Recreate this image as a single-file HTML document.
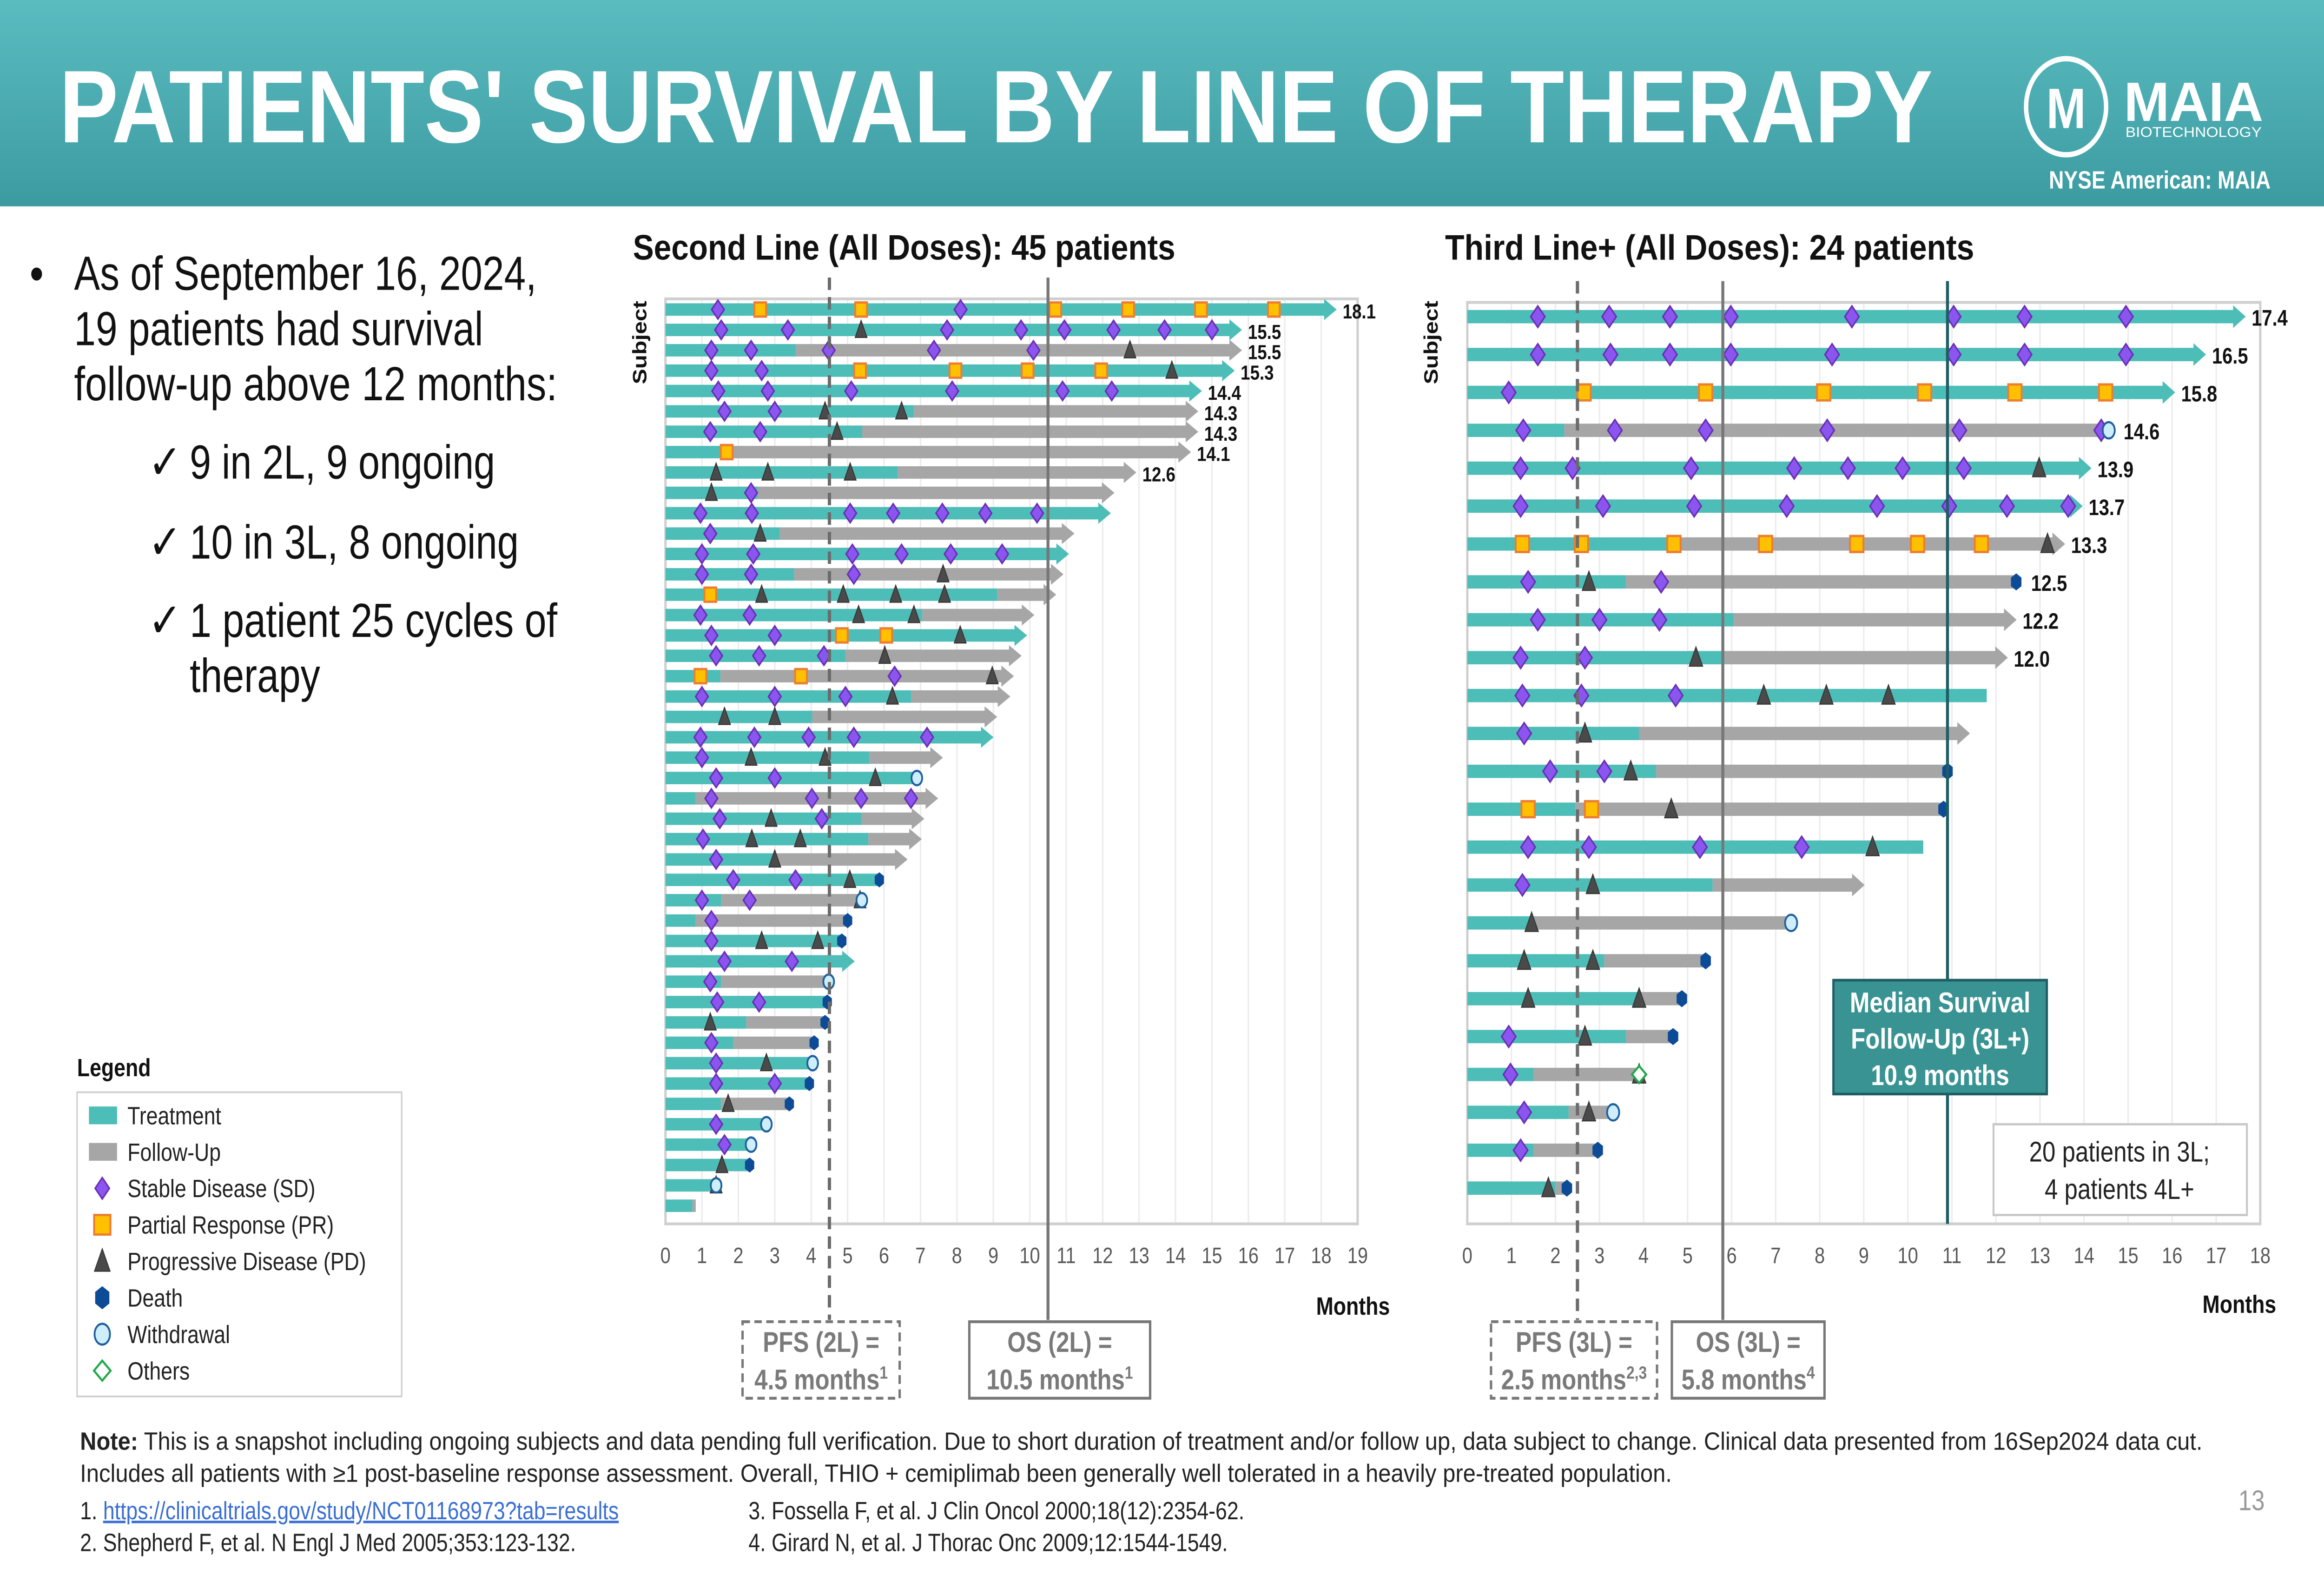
<!DOCTYPE html>
<html><head><meta charset="utf-8"><style>
html,body{margin:0;padding:0;background:#fff;overflow:hidden;width:100%;height:100%;}
svg{display:block;width:100vw;height:100vh;}
text{font-family:"Liberation Sans",sans-serif;}
</style></head><body>
<svg id="s" xmlns="http://www.w3.org/2000/svg" viewBox="0 0 1568 882" preserveAspectRatio="none">
<defs><linearGradient id="hg" x1="0" y1="0" x2="0" y2="1"><stop offset="0" stop-color="#5bbcc0"/><stop offset="1" stop-color="#3b9ba1"/></linearGradient></defs>
<g>
<rect x="0" y="0" width="1568" height="116" fill="url(#hg)"/>
<text x="40" y="80" font-size="58" font-weight="bold" fill="#fff" textLength="1264" lengthAdjust="spacingAndGlyphs">PATIENTS' SURVIVAL BY LINE OF THERAPY</text>
<g>
<circle cx="1394" cy="60" r="27" fill="none" stroke="#fff" stroke-width="3"/>
<text x="1394" y="72" font-size="32" fill="#fff" text-anchor="middle" font-weight="bold">M</text>
<text x="1433" y="68" font-size="31" fill="#fff" font-weight="bold" textLength="94" lengthAdjust="spacingAndGlyphs">MAIA</text>
<text x="1434" y="77" font-size="8" fill="#fff" textLength="92" lengthAdjust="spacingAndGlyphs">BIOTECHNOLOGY</text>
</g>
<text x="1532" y="106" font-size="14" font-weight="bold" fill="#fff" text-anchor="end">NYSE American: MAIA</text>
</g>
<g font-size="27" fill="#111">
<text x="20" y="163">•</text>
<text x="50" y="163" textLength="312" lengthAdjust="spacingAndGlyphs">As of September 16, 2024,</text>
<text x="50" y="194" textLength="276" lengthAdjust="spacingAndGlyphs">19 patients had survival</text>
<text x="50" y="225" textLength="326" lengthAdjust="spacingAndGlyphs">follow-up above 12 months:</text>
<text x="100" y="269">✓</text><text x="128" y="269" textLength="206" lengthAdjust="spacingAndGlyphs">9 in 2L, 9 ongoing</text>
<text x="100" y="314">✓</text><text x="128" y="314" textLength="222" lengthAdjust="spacingAndGlyphs">10 in 3L, 8 ongoing</text>
<text x="100" y="358">✓</text><text x="128" y="358" textLength="248" lengthAdjust="spacingAndGlyphs">1 patient 25 cycles of</text>
<text x="128" y="389" textLength="88" lengthAdjust="spacingAndGlyphs">therapy</text>
</g>
<g>
<text x="52" y="605" font-size="14" font-weight="bold" fill="#111">Legend</text>
<rect x="52" y="614" width="219" height="171" fill="#fff" stroke="#d0d0d0"/>
</g>
<g id="leftChart"></g>
<g id="rightChart"></g>
<g font-size="14" fill="#222">
<text x="54" y="815" textLength="1432" lengthAdjust="spacingAndGlyphs"><tspan font-weight="bold">Note:</tspan> This is a snapshot including ongoing subjects and data pending full verification. Due to short duration of treatment and/or follow up, data subject to change. Clinical data presented from 16Sep2024 data cut.</text>
<text x="54" y="833" textLength="1074" lengthAdjust="spacingAndGlyphs">Includes all patients with ≥1 post-baseline response assessment. Overall, THIO + cemiplimab been generally well tolerated in a heavily pre-treated population.</text>
<text x="54" y="854">1. <tspan fill="#3b6fd4" text-decoration="underline">https://clinicaltrials.gov/study/NCT01168973?tab=results</tspan></text>
<text x="54" y="872">2. Shepherd F, et al. N Engl J Med 2005;353:123-132.</text>
<text x="505" y="854">3. Fossella F, et al. J Clin Oncol 2000;18(12):2354-62.</text>
<text x="505" y="872">4. Girard N, et al. J Thorac Onc 2009;12:1544-1549.</text>
</g>
<text x="1528" y="849" font-size="16" fill="#999" text-anchor="end">13</text>
</svg>
<script>
// ===== Second line (left) data =====
const L_tx=[18.1,15.5,3.58,15.3,14.4,6.82,5.4,1.5,6.37,2.54,11.9,3.14,10.75,3.53,9.11,7.05,9.6,4.94,1.51,6.75,4.03,8.68,5.6,6.9,0.83,5.38,5.57,3.0,5.87,1.53,0.83,4.84,4.87,1.53,4.44,2.22,1.86,4.04,3.95,1.53,2.77,2.35,2.31,1.39,0.74];
const L_fu=[18.1,15.5,15.5,15.3,14.4,14.3,14.3,14.1,12.6,12.0,11.9,10.9,10.75,10.6,10.4,9.8,9.6,9.45,9.24,9.14,8.78,8.68,7.29,6.9,7.16,6.78,6.71,6.32,5.87,5.39,5.0,4.84,4.87,4.48,4.44,4.38,4.08,4.04,3.95,3.4,2.77,2.35,2.31,1.39,0.83];
const L_end=['a','a','a','a','a','a','a','a','a','a','a','a','a','a','a','a','a','a','a','a','a','a','a','w','a','a','a','a','d','w','d','d','a','w','d','d','d','w','d','d','w','w','d','w','n'];
const L_labels=['18.1','15.5','15.5','15.3','14.4','14.3','14.3','14.1','12.6'];
const L_sd=[[1.44,8.1],[1.53,3.36,7.73,9.76,10.95,12.3,13.7,15.0],[1.26,2.35,4.48,7.37,10.1],[1.26,2.64],[1.45,2.81,5.1,7.87,10.9,12.25],[1.62,3.0],[1.23,2.6],[],[],[2.35],[0.96,2.37,5.07,6.25,7.6,8.78,10.2],[1.23],[1.0,2.41,5.13,6.48,7.83,9.24],[1.0,2.35,5.17],[],[0.96,2.31],[1.26,3.0],[1.39,2.57,4.35],[6.29],[1.0,3.0,4.94],[],[0.96,2.44,3.93,5.17,7.18],[1.0],[1.39,3.0],[1.26,4.02,5.37,6.74],[1.49,4.29],[1.03],[1.39],[1.86,3.57],[1.0,2.31],[1.26],[1.26],[1.62,3.47],[1.23],[1.42,2.57],[],[1.26],[1.39],[1.39,3.0],[],[1.39],[1.62],[],[],[]];
const L_pr=[[2.6,5.37,10.7,12.7,14.7,16.7],[],[],[5.34,7.96,9.94,11.96],[],[],[],[1.68],[],[],[],[],[],[],[1.23],[],[4.84,6.06],[],[0.96,3.72],[],[],[],[],[],[],[],[],[],[],[],[],[],[],[],[],[],[],[],[],[],[],[],[],[],[]];
const L_pd=[[],[5.37],[12.75],[13.9],[],[4.38,6.48],[4.71],[],[1.39,2.81,5.07],[1.26],[],[2.6],[],[7.62],[2.64,4.88,6.32,7.66],[5.3,6.82],[8.09],[6.02],[8.97],[6.23],[1.62,3.0],[],[2.35,4.38],[5.76],[],[2.9],[2.37,3.7],[3.0],[5.06],[5.34],[],[2.64,4.18],[],[],[],[1.23],[],[2.77],[],[1.72],[],[],[1.55],[1.39],[]];
const L_ticks=[0,1,2,3,4,5,6,7,8,9,10,11,12,13,14,15,16,17,18,19];
const L_medians=[4.5,10.5];
// ===== Third line+ (right) data =====
const R_tx=[17.4,16.5,15.8,2.2,13.9,13.7,4.69,3.6,6.05,5.84,11.79,3.9,4.28,2.45,10.35,5.57,1.47,3.11,3.9,3.6,1.5,2.3,1.5,2.0];
const R_fu=[17.4,16.5,15.8,14.56,13.9,13.7,13.3,12.46,12.2,12.0,11.79,11.14,10.9,10.81,10.35,8.75,7.35,5.41,4.87,4.67,3.9,3.31,2.96,2.26];
const R_end=['a','a','a','w','a','a','a','d','a','a','n','a','d','d','n','a','w','d','d','d','o','w','d','d'];
const R_labels=['17.4','16.5','15.8','14.6','13.9','13.7','13.3','12.5','12.2','12.0'];
const R_sd=[[1.6,3.22,4.6,5.98,8.73,11.04,12.65,14.95],[1.6,3.25,4.6,5.98,8.28,11.04,12.65,14.95],[0.94],[1.27,3.35,5.41,8.17,11.17,14.39],[1.21,2.39,5.08,7.42,8.64,9.88,11.27],[1.21,3.08,5.15,7.25,9.3,10.94,12.25,13.64],[],[1.38,4.4],[1.6,3.0,4.36],[1.21,2.67],[1.25,2.59,4.73],[1.29],[1.88,3.11],[],[1.38,2.76,5.28,7.59],[1.25],[],[],[],[0.94],[0.98],[1.29],[1.21],[]];
const R_pr=[[],[],[2.65,5.41,8.09,10.38,12.43,14.49],[],[],[],[1.25,2.59,4.69,6.77,8.84,10.22,11.67],[],[],[],[],[],[],[1.38,2.82],[],[],[],[],[],[],[],[],[],[]];
const R_pd=[[],[],[],[],[12.98],[],[13.17],[2.76],[],[5.19],[6.73,8.15,9.56],[2.67],[3.71],[4.63],[9.2],[2.85],[1.46],[1.29,2.85],[1.38,3.9],[2.67],[3.9],[2.76],[],[1.84]];
const R_ticks=[0,1,2,3,4,5,6,7,8,9,10,11,12,13,14,15,16,17,18];
const R_medians=[2.5,5.8,10.9];

const NS='http://www.w3.org/2000/svg';
const C={teal:'#4dbdb8',gray:'#a6a6a6',sd:'#8b55f0',sdS:'#6a2fb5',pr:'#ffc000',prS:'#ed7d31',pd:'#4a4a4a',death:'#0d4b97',wd:'#cdeefa',wdS:'#1f5f9e',oth:'#22a84a'};
function mk(tag,attrs,parent){const e=document.createElementNS(NS,tag);for(const k in attrs)e.setAttribute(k,attrs[k]);parent.appendChild(e);return e;}
function diamond(g,x,y,s){const e=mk('polygon',{points:`${x},${y-s} ${x+s*0.8},${y} ${x},${y+s} ${x-s*0.8},${y}`,fill:C.sd,stroke:C.sdS,'stroke-width':1},g);

}
function square(g,x,y,s){const e=mk('rect',{x:x-s,y:y-s,width:2*s,height:2*s,fill:C.pr,stroke:C.prS,'stroke-width':1.3},g);

}
function tri(g,x,y,s){const e=mk('polygon',{points:`${x},${y-s} ${x+s*0.75},${y+s*0.8} ${x-s*0.75},${y+s*0.8}`,fill:C.pd,stroke:'#333','stroke-width':0.6},g);

}
function hexa(g,x,y,s){let p=[];for(let i=0;i<6;i++){const a=Math.PI/3*i+Math.PI/6;p.push((x+s*0.85*Math.cos(a))+','+(y+s*Math.sin(a)));}const e=mk('polygon',{points:p.join(' '),fill:C.death},g);

}
function circ(g,x,y,s){const e=mk('ellipse',{cx:x,cy:y,rx:s*0.8,ry:s*0.9,fill:C.wd,stroke:C.wdS,'stroke-width':1.2},g);

}
function other(g,x,y,s){const e=mk('polygon',{points:`${x},${y-s*0.8} ${x+s*0.8},${y} ${x},${y+s*0.8} ${x-s*0.8},${y}`,fill:'#fff',stroke:C.oth,'stroke-width':1.3},g);

}

function drawChart(g,cfg){
  const {x0,x1,maxM,yTop,yBot,row0,rowStep,tx,fu,end,labels,sd,pr,pd,ticks,barH,ms,medians,medStyles}=cfg;
  const xs=m=>x0+(x1-x0)*m/maxM;
  const ys=i=>row0+i*rowStep;
  ticks.forEach(t=>{if(t>0&&t<maxM){const l=mk('line',{x1:xs(t),x2:xs(t),y1:yTop,y2:yBot,stroke:'#ececec','stroke-width':1},g);
    
    }
    const tl=mk('text',{x:xs(t),y:yBot+22,'font-size':12.5,fill:'#595959','text-anchor':'middle'},g);tl.textContent=t;
    
    });
  const fr=mk('rect',{x:x0,y:yTop,width:x1-x0,height:yBot-yTop,fill:'none',stroke:'#cfcfcf','stroke-width':1.6},g);
  
  
  tx.forEach((t,i)=>{
    const y=ys(i),f=fu[i];
    const row=mk('g',{},g);
    
    
    mk('rect',{x:x0,y:y-barH/2,width:xs(t)-x0,height:barH,fill:C.teal},row);
    if(f>t) mk('rect',{x:xs(t),y:y-barH/2,width:xs(f)-xs(t),height:barH,fill:C.gray},row);
    let tip=xs(f);
    if(end[i]==='a'){const col=f>t?C.gray:C.teal;tip=xs(f)+8;
      mk('polygon',{points:`${xs(f)-0.5},${y-barH*0.85} ${tip},${y} ${xs(f)-0.5},${y+barH*0.85}`,fill:col},row);}
    sd[i].forEach(m=>diamond(row,xs(m),y,ms));
    pr[i].forEach(m=>square(row,xs(m),y,ms*0.75));
    pd[i].forEach(m=>tri(row,xs(m),y,ms));
    if(end[i]==='d')hexa(row,xs(f),y,ms*0.8);
    if(end[i]==='w')circ(row,xs(f),y,ms*0.85);
    if(end[i]==='o')other(row,xs(f),y,ms);
    if(i<labels.length){const lt=mk('text',{x:(end[i]==='a'?tip:xs(f)+ms)+4,y:y+5+cfg.labOff,'font-size':cfg.labSize,'font-weight':'bold',fill:'#111'},row);lt.textContent=labels[i];
      
      }
  });
  medians.forEach((m,k)=>{const st=medStyles[k];const l=mk('line',{x1:xs(m),x2:xs(m),y1:yTop-12,y2:st.y2,stroke:st.c,'stroke-width':st.w,'stroke-dasharray':st.d||'none'},g);
    
    });
}
const LG=document.getElementById('leftChart'),RG=document.getElementById('rightChart');
drawChart(LG,{x0:449,x1:916,maxM:19,yTop:168,yBot:688,row0:174,rowStep:11.45,tx:L_tx,fu:L_fu,end:L_end,labels:L_labels,sd:L_sd,pr:L_pr,pd:L_pd,ticks:L_ticks,barH:7,ms:5.3,labOff:0,labSize:11.5,medians:L_medians,medStyles:[{c:'#6b6b6b',w:2.2,d:'7 4',y2:742},{c:'#777',w:2,y2:742}]});
drawChart(RG,{x0:990,x1:1525,maxM:18,yTop:170,yBot:688,row0:178,rowStep:21.3,tx:R_tx,fu:R_fu,end:R_end,labels:R_labels,sd:R_sd,pr:R_pr,pd:R_pd,ticks:R_ticks,barH:7.5,ms:6,labOff:0,labSize:12.5,medians:R_medians,medStyles:[{c:'#6b6b6b',w:2.2,d:'7 4',y2:742},{c:'#777',w:2,y2:742},{c:'#1e5e63',w:2,y2:688}]});

function addT(p,x,y,s,txt,extra,name){const t=mk('text',Object.assign({x:x,y:y,'font-size':s,fill:'#111'},extra||{}),p);t.textContent=txt;
 
 return t;}
addT(LG,427,146,20,'Second Line (All Doses): 45 patients',{'font-weight':'bold',textLength:366,lengthAdjust:'spacingAndGlyphs'},'chart-title');
addT(RG,975,146,20,'Third Line+ (All Doses): 24 patients',{'font-weight':'bold',textLength:357,lengthAdjust:'spacingAndGlyphs'},'chart-title');
addT(LG,436,216,13,'Subject',{'font-weight':'bold',transform:'rotate(-90 436 216)'},'y-axis-title');
addT(RG,970,216,13,'Subject',{'font-weight':'bold',transform:'rotate(-90 970 216)'},'y-axis-title');
addT(LG,888,739,14,'Months',{'font-weight':'bold'},'x-axis-title');
addT(RG,1486,738,14,'Months',{'font-weight':'bold'},'x-axis-title');

function box(p,x,y,w,h,lines,dashed,name){const g=mk('g',{},p);
 
 
 mk('rect',{x:x,y:y,width:w,height:h,fill:'#fff',stroke:'#777','stroke-width':1.6,'stroke-dasharray':dashed?'5 3':'none'},g);
 lines.forEach((l,i)=>{const t=mk('text',{x:x+w/2,y:y+17+i*21,'font-size':16,'font-weight':'bold',fill:'#7a7a7a','text-anchor':'middle'},g);t.innerHTML=l;});}
box(LG,501,743,106,43,['PFS (2L) =','4.5 months<tspan font-size="10" dy="-6">1</tspan>'],true,'pfs-2l-box');
box(LG,654,743,122,43,['OS (2L) =','10.5 months<tspan font-size="10" dy="-6">1</tspan>'],false,'os-2l-box');
box(RG,1006,743,112,43,['PFS (3L) =','2.5 months<tspan font-size="10" dy="-6">2,3</tspan>'],true,'pfs-3l-box');
box(RG,1128,743,103,43,['OS (3L) =','5.8 months<tspan font-size="10" dy="-6">4</tspan>'],false,'os-3l-box');
(function(){const g=mk('g',{},RG);
 
 
 mk('rect',{x:1237,y:551,width:144,height:64,fill:'#3a9393',stroke:'#1e5e63','stroke-width':1.5},g);
 ['Median Survival','Follow-Up (3L+)','10.9 months'].forEach((l,i)=>{const t=mk('text',{x:1309,y:569+i*20.5,'font-size':16,'font-weight':'bold',fill:'#fff','text-anchor':'middle'},g);t.textContent=l;});
 const g2=mk('g',{},RG);
 
 
 mk('rect',{x:1345,y:632,width:171,height:51,fill:'#fff',stroke:'#c8c8c8','stroke-width':1.3},g2);
 ['20 patients in 3L;','4 patients 4L+'].forEach((l,i)=>{const t=mk('text',{x:1430,y:653+i*21,'font-size':16,fill:'#222','text-anchor':'middle'},g2);t.textContent=l;});
})();

(function(){const svg=document.getElementById('s');const lg=mk('g',{},svg);
 
 
 const items=['Treatment','Follow-Up','Stable Disease (SD)','Partial Response (PR)','Progressive Disease (PD)','Death','Withdrawal','Others'];
 items.forEach((it,i)=>{const y=627+i*20.5;const g=mk('g',{},lg);
  
  
  const x=69;
  if(i===0)mk('rect',{x:60,y:y-5,width:19,height:10,fill:C.teal},g);
  if(i===1)mk('rect',{x:60,y:y-5,width:19,height:10,fill:C.gray},g);
  if(i===2)diamond(g,x,y,6);
  if(i===3)square(g,x,y,5.5);
  if(i===4)tri(g,x,y,7);
  if(i===5)hexa(g,x,y,6.5);
  if(i===6)circ(g,x,y,6.5);
  if(i===7)other(g,x,y,7);
  const t=mk('text',{x:86,y:y+5,'font-size':14,fill:'#222'},g);t.textContent=it;});
})();
</script>
</body></html>
